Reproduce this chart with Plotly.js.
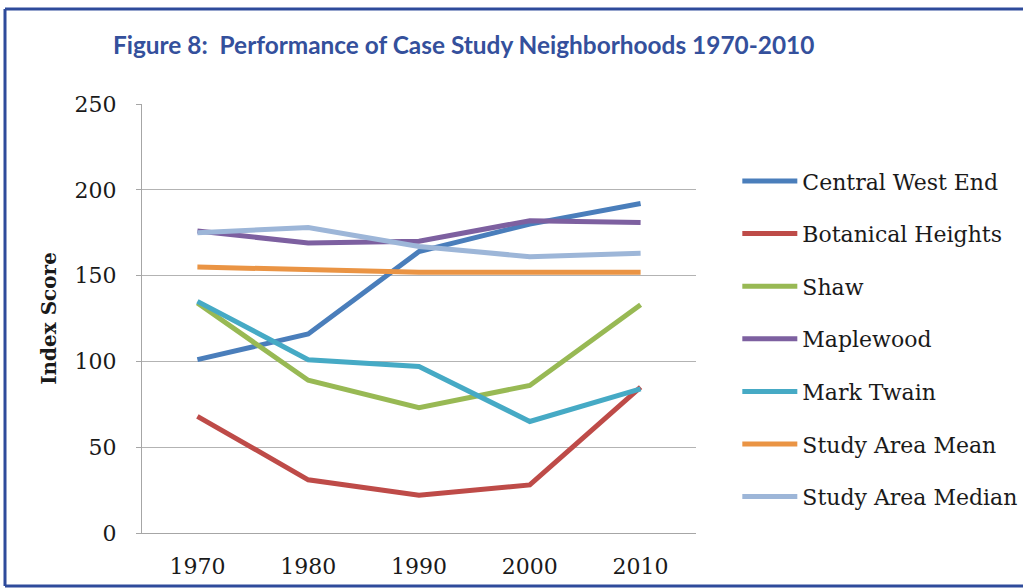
<!DOCTYPE html>
<html>
<head>
<meta charset="utf-8">
<script src="https://cdn.plot.ly/plotly-3.0.1.min.js"></script>
<style>
  html, body { margin: 0; padding: 0; background: #fff; }
  #chart { width: 1023px; height: 588px; }
</style>
</head>
<body>
<div id="chart"></div>
<script>
const years = ['1970', '1980', '1990', '2000', '2010'];

const seriesNames = ['Central West End', 'Botanical Heights', 'Shaw', 'Maplewood', 'Mark Twain', 'Study Area Mean', 'Study Area Median'];

const centralWestEnd   = [101, 116, 164, 180, 192];
const botanicalHeights = [68, 31, 22, 28, 85];
const shaw             = [134, 89, 73, 86, 133];
const maplewood        = [176, 169, 170, 182, 181];
const markTwain        = [135, 101, 97, 65, 84];
const studyAreaMean    = [155, 153.5, 152, 152, 152];
const studyAreaMedian  = [175, 178, 167, 161, 163];

const yTickValues = [0, 50, 100, 150, 200, 250];

const seriesValues = [centralWestEnd, botanicalHeights, shaw, maplewood, markTwain, studyAreaMean, studyAreaMedian];
const seriesColors = ['#4a7ebb', '#be4b48', '#98b954', '#7d60a0', '#46aac5', '#ea9444', '#9db6d8'];

const serif = 'DejaVu Serif, Liberation Serif, serif';

const traces = seriesNames.map((name, i) => ({
  type: 'scatter',
  mode: 'lines',
  name: name,
  x: years,
  y: seriesValues[i],
  legendgroup: 'g' + i,
  line: { color: seriesColors[i], width: 5, shape: 'linear' },
  hoverinfo: 'x+y+name'
}));

// frame around the figure (top, left, bottom edges) in paper coordinates
const fx0 = (5 - 142) / 554, fx1 = (1023 - 142) / 554;
const fyTop = (533 - 9) / 429, fyBot = (533 - 586) / 429;
const frameColor = '#2e4b9b';
const frame = [
  { x0: fx0, x1: fx1, y0: fyTop, y1: fyTop },
  { x0: fx0, x1: fx0, y0: fyBot, y1: fyTop },
  { x0: fx0, x1: fx1, y0: fyBot, y1: fyBot }
].map(s => Object.assign({ type: 'line', xref: 'paper', yref: 'paper', layer: 'below', line: { color: frameColor, width: 3 } }, s));

const layout = {
  width: 1023,
  height: 588,
  paper_bgcolor: '#ffffff',
  plot_bgcolor: '#ffffff',
  margin: { l: 142, r: 327, t: 104, b: 55, pad: 0, autoexpand: false },
  showlegend: true,
  title: {
    text: 'Figure 8:  Performance of Case Study Neighborhoods 1970-2010',
    font: { family: 'Lato, Open Sans, sans-serif', size: 24.4, color: '#34509c', weight: 'bold' },
    xref: 'container', yref: 'container',
    x: 113 / 1023, xanchor: 'left',
    y: 1 - 45 / 588, yanchor: 'middle'
  },
  xaxis: {
    type: 'category',
    range: [-0.5, 4.5],
    showgrid: false,
    showline: true,
    linecolor: '#a6a6a6',
    linewidth: 1,
    ticks: '',
    tickfont: { family: serif, size: 22, color: '#1a1a1a' },
    ticklabelstandoff: 14,
    zeroline: false,
    fixedrange: true
  },
  yaxis: {
    range: [0, 250],
    tickvals: yTickValues,
    ticktext: yTickValues.map(String),
    showgrid: true,
    gridcolor: '#b3b3b3',
    gridwidth: 1,
    showline: true,
    linecolor: '#a6a6a6',
    linewidth: 1,
    ticks: 'outside',
    ticklen: 5,
    tickcolor: '#a6a6a6',
    tickfont: { family: serif, size: 22, color: '#1a1a1a' },
    ticklabelstandoff: 15,
    zeroline: false,
    title: {
      text: 'Index Score',
      font: { family: serif, size: 20, color: '#1a1a1a', weight: 'bold' },
      standoff: 12
    },
    fixedrange: true
  },
  legend: {
    x: 1.08 - 3 / 554, xanchor: 'left',
    y: 0.82 + 21 / 429, yanchor: 'top',
    font: { family: serif, size: 22, color: '#1a1a1a' },
    itemwidth: 55,
    tracegroupgap: 21,
    bgcolor: 'rgba(0,0,0,0)',
    borderwidth: 0
  },
  shapes: frame
};

Plotly.newPlot('chart', traces, layout, { displayModeBar: false, staticPlot: true });
</script>
</body>
</html>
